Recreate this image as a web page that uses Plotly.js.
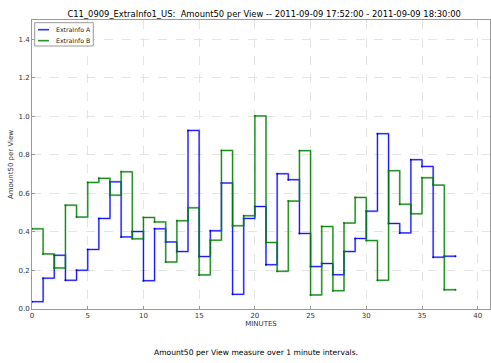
<!DOCTYPE html>
<html><head><meta charset="utf-8">
<script src="https://cdn.plot.ly/plotly-3.0.1.min.js"></script>
<style>html,body{margin:0;padding:0;background:#fff}#chart{width:491px;height:363px}</style>
</head><body><div id="chart"></div>
<script>
const minutes = [0,1,2,3,4,5,6,7,8,9,10,11,12,13,14,15,16,17,18,19,20,21,22,23,24,25,26,27,28,29,30,31,32,33,34,35,36,37,38];
const seriesA = [0.038,0.16,0.279,0.149,0.201,0.309,0.47,0.66,0.374,0.402,0.147,0.416,0.348,0.298,0.927,0.272,0.406,0.654,0.076,0.47,0.532,0.23,0.702,0.671,0.392,0.22,0.236,0.178,0.298,0.366,0.508,0.91,0.444,0.395,0.775,0.74,0.269,0.274,0.274];
const seriesB = [0.416,0.286,0.213,0.539,0.477,0.657,0.678,0.591,0.712,0.364,0.475,0.452,0.244,0.458,0.525,0.177,0.357,0.823,0.432,0.484,1.002,0.345,0.196,0.56,0.822,0.073,0.428,0.095,0.446,0.579,0.355,0.149,0.718,0.544,0.494,0.681,0.643,0.1,0.1];
const names = ['ExtraInfo A','ExtraInfo B'];
const colors = ['#0000ff','#008000'];
const halos = ['rgba(0,0,255,0.35)','rgba(0,128,0,0.4)'];
const titleText = 'C11_0909_ExtraInfo1_US:  Amount50 per View -- 2011-09-09 17:52:00 - 2011-09-09 18:30:00';
const caption = 'Amount50 per View measure over 1 minute intervals.';

function traces(y, name, halo, core){
  return [
    {x: minutes, y: y, type:'scatter', mode:'lines', line:{shape:'hv', color:halo, width:2}, showlegend:false, hoverinfo:'skip'},
    {x: minutes, y: y, type:'scatter', mode:'lines', name:name, line:{shape:'hv', color:core, width:0.9}, showlegend:false},
    {x: minutes, y: y, type:'scatter', mode:'markers', marker:{size:2, color:core}, showlegend:false}
  ];
}
const data = [].concat(
  traces(seriesA, names[0], halos[0], colors[0]),
  traces(seriesB, names[1], halos[1], colors[1])
);
const font = {family:'DejaVu Sans, sans-serif', size:7, color:'#333'};

// custom compact legend (matplotlib style)
const legY = [0.9664, 0.9284];
const shapes = [{type:'rect', xref:'paper', yref:'paper', x0:0.0059, x1:0.1338, y0:0.910, y1:0.9907,
  line:{color:'#999', width:1}, fillcolor:'#fff', layer:'above'}];
const annotations = [{text:caption, xref:'paper', yref:'paper', x:0.49, y:-0.15, xanchor:'center', yanchor:'middle', showarrow:false,
    font:{family:'DejaVu Sans, sans-serif', size:7.6, color:'#000'}}];
names.forEach((n,i)=>{
  shapes.push({type:'line', xref:'paper', yref:'paper', x0:0.0131, x1:0.0371, y0:legY[i], y1:legY[i], line:{color:halos[i], width:2}, layer:'above'});
  shapes.push({type:'line', xref:'paper', yref:'paper', x0:0.0131, x1:0.0371, y0:legY[i], y1:legY[i], line:{color:colors[i], width:0.9}, layer:'above'});
  annotations.push({text:n, xref:'paper', yref:'paper', x:0.048, y:legY[i], xanchor:'left', yanchor:'middle', showarrow:false,
    font:{family:'DejaVu Sans, sans-serif', size:6.2, color:'#222'}});
});

const layout = {
  width:491, height:363,
  margin:{l:32, r:1, t:20, b:54},
  paper_bgcolor:'#fff', plot_bgcolor:'#fff',
  font: font,
  title:{text:titleText, font:{family:'DejaVu Sans, sans-serif', size:8.4, color:'#000'}, x:0.538, xanchor:'center', y:0.962, yanchor:'middle'},
  xaxis:{range:[0,41.1], tickvals:[0,5,10,15,20,25,30,35,40], ticks:'inside', ticklen:3, tickcolor:'#999',
    showgrid:true, gridcolor:'#e4e4e4', griddash:'dash', gridwidth:1, zeroline:false,
    showline:true, linecolor:'#999', mirror:true, tickfont:font,
    title:{text:'MINUTES', font:{family:'DejaVu Sans, sans-serif', size:7, color:'#333'}, standoff:0}},
  yaxis:{range:[0,1.5], tickvals:[0,0.2,0.4,0.6,0.8,1.0,1.2,1.4], ticktext:['0.0','0.2','0.4','0.6','0.8','1.0','1.2','1.4'],
    ticks:'inside', ticklen:3, tickcolor:'#999',
    showgrid:true, gridcolor:'#e4e4e4', griddash:'dash', gridwidth:1, zeroline:false,
    showline:true, linecolor:'#999', mirror:true, tickfont:font,
    title:{text:'Amount50 per View', font:{family:'DejaVu Sans, sans-serif', size:7, color:'#333'}, standoff:4}},
  shapes: shapes,
  annotations: annotations,
  showlegend:false
};
Plotly.newPlot('chart', data, layout, {displayModeBar:false, staticPlot:true});
</script></body></html>
